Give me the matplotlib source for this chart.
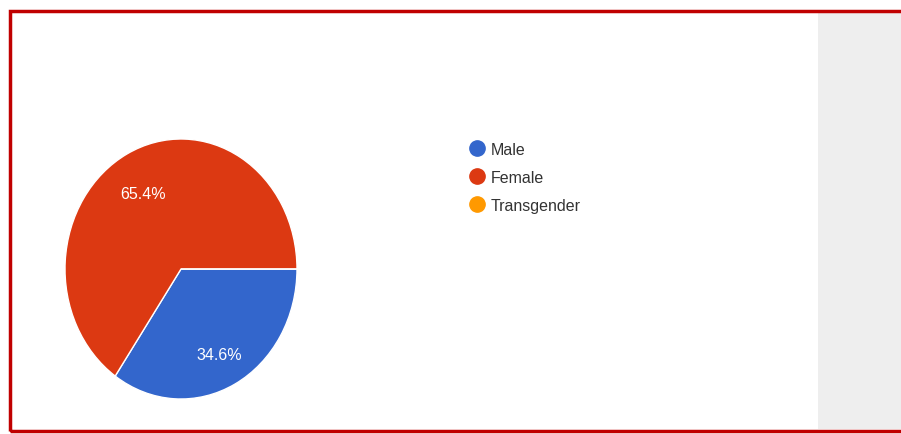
import matplotlib.pyplot as plt
from matplotlib.patches import Rectangle
from matplotlib.lines import Line2D

# data
labels = ['Male', 'Female', 'Transgender']
shares = [34.6, 65.4, 0.0]
colors = ['#3366CC', '#DC3912', '#FF9900']

plt.rcParams['font.family'] = ['Liberation Sans', 'DejaVu Sans']

W, H = 901, 435
fig = plt.figure(figsize=(W / 100, H / 100), dpi=100)

# background axes: grey side panel + red frame (pixel coords, y up)
bg = fig.add_axes([0, 0, 1, 1])
bg.set_xlim(0, W)
bg.set_ylim(0, H)
bg.axis('off')
bg.add_patch(Rectangle((818, 5), 90, 418, facecolor='#EEEEEE', edgecolor='none', zorder=0))
bg.add_patch(Rectangle((10, 3), 1000, 420, facecolor='none', edgecolor='#C00000', lw=2.5, zorder=5))

# pie is slightly stretched vertically in the original screenshot
ax = fig.add_axes([65 / W, (H - 400) / H, 232 / W, 260 / H])

def pct(v):
    return '' if v < 0.05 else '%.1f%%' % v

wedges, texts, autotexts = ax.pie(shares, colors=colors, startangle=0, counterclock=False,
                                  radius=1, autopct=pct, pctdistance=0.70,
                                  wedgeprops=dict(edgecolor='white', linewidth=1),
                                  textprops=dict(color='white', fontsize=11.5))
# labels sit a little lower in the original
for t in autotexts:
    x, y = t.get_position()
    t.set_position((x, y - 0.04))
ax.set_aspect('auto')
ax.set_xlim(-1, 1)
ax.set_ylim(-1, 1)
ax.axis('off')

handles = [Line2D([], [], marker='o', linestyle='', markersize=11, markerfacecolor=c,
                  markeredgecolor=c) for c in colors]
leg = bg.legend(handles, labels, loc='upper left', bbox_to_anchor=(465 / W, 1 - 143 / H),
                frameon=False, fontsize=11.5, handletextpad=0.1, labelspacing=0.8,
                handlelength=1.5, borderaxespad=0, borderpad=0)
for t in leg.get_texts():
    t.set_color('#333333')

fig.savefig('out.png', dpi=100)
